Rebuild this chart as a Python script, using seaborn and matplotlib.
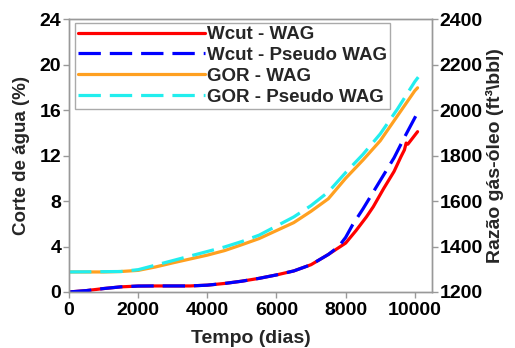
import matplotlib
matplotlib.use("Agg")
import matplotlib.pyplot as plt
import seaborn as sns

# Tempo (dias) e corte de água (%)
t_wcut = [0, 500, 1000, 1500, 2000, 2500, 3000, 3500, 4000, 4500, 5000, 5500,
          6000, 6500, 7000, 7500]
wcut_base = [0, 0.12, 0.3, 0.45, 0.52, 0.53, 0.53, 0.53, 0.6, 0.75, 0.95, 1.2,
             1.5, 1.85, 2.4, 3.3]

t_wcut_wag = t_wcut + [8000, 8300, 8600, 8800, 9100, 9400, 9600, 9700, 9750, 9800, 10080]
wcut_wag = wcut_base + [4.3, 5.4, 6.6, 7.5, 9.1, 10.6, 11.9, 12.5, 13.1, 13.0, 14.1]

t_wcut_pseudo = t_wcut + [7800, 8000, 8200, 8500, 8800, 9100, 9400, 9700, 10050]
wcut_pseudo = wcut_base + [4.0, 4.8, 5.9, 7.3, 8.8, 10.3, 11.8, 13.6, 15.6]

# Razão gás-óleo (ft3/bbl)
t_gor_wag = [0, 1000, 1500, 2000, 2500, 3000, 3500, 4000, 4500, 5000, 5500, 6000,
             6500, 7000, 7500, 8000, 8500, 9000, 9500, 10000, 10080]
gor_wag = [1288, 1288, 1290, 1295, 1310, 1328, 1345, 1362, 1382, 1408, 1435, 1470,
           1505, 1555, 1610, 1700, 1780, 1865, 1975, 2085, 2098]

t_gor_pseudo = [0, 1500, 2000, 2500, 3000, 3500, 4000, 4500, 5000, 5500, 6000,
                6500, 7000, 7500, 8000, 8500, 9000, 9500, 10000, 10100]
gor_pseudo = [1288, 1290, 1298, 1318, 1338, 1358, 1378, 1398, 1422, 1450, 1490,
              1530, 1580, 1640, 1725, 1805, 1895, 2005, 2125, 2145]

sns.set_style("ticks")
plt.rcParams['font.family'] = ['Liberation Sans', 'DejaVu Sans']
plt.rcParams['font.weight'] = 'bold'

fig = plt.figure(figsize=(5.15, 3.48), dpi=100)
ax = fig.add_axes([0.134, 0.161, 0.705, 0.784])
ax2 = ax.twinx()

lw = 2.3
sns.lineplot(x=t_wcut_wag, y=wcut_wag, color="#ff0000", linewidth=lw, ax=ax,
             label="Wcut - WAG")
sns.lineplot(x=t_wcut_pseudo, y=wcut_pseudo, color="#0000ff", linewidth=lw, ax=ax,
             label="Wcut - Pseudo WAG")
ax.lines[-1].set_dashes([7, 2.8])
sns.lineplot(x=t_gor_wag, y=gor_wag, color="#ffa020", linewidth=lw, ax=ax2,
             label="GOR - WAG")
sns.lineplot(x=t_gor_pseudo, y=gor_pseudo, color="#22eeee", linewidth=lw, ax=ax2,
             label="GOR - Pseudo WAG")
ax2.lines[-1].set_dashes([7, 2.8])

ax.set_xlim(0, 10500)
ax.set_ylim(0, 24)
ax2.set_ylim(1200, 2400)
ax.set_xticks([0, 2000, 4000, 6000, 8000, 10000])
ax.set_yticks([0, 4, 8, 12, 16, 20, 24])
ax2.set_yticks([1200, 1400, 1600, 1800, 2000, 2200, 2400])

spine_col = "#999999"
for a in (ax, ax2):
    for s in a.spines.values():
        s.set_color(spine_col)
        s.set_linewidth(1.0)
    a.tick_params(colors=spine_col, labelcolor="black", labelsize=14,
                  length=4, width=1.0, pad=1.5)
ax.tick_params(axis="x", pad=3)

ax.set_xlabel("Tempo (dias)", fontsize=14, fontweight="bold", labelpad=8)
ax.set_ylabel("Corte de água (%)", fontsize=13.5, fontweight="bold", labelpad=7)
ax2.set_ylabel("Razão gás-óleo (ft³\\bbl)", fontsize=14, fontweight="bold",
               labelpad=2)

h1, l1 = ax.get_legend_handles_labels()
h2, l2 = ax2.get_legend_handles_labels()
ax.get_legend().remove()
ax2.get_legend().remove()
leg = ax2.legend(h1 + h2, l1 + l2, loc="upper left", bbox_to_anchor=(0.0165, 0.985),
                 borderaxespad=0, fontsize=13.5, handlelength=6.8, handletextpad=0.1,
                 labelspacing=0.2, borderpad=0.15, fancybox=False, framealpha=1,
                 edgecolor="#aaaaaa")
leg.get_frame().set_linewidth(1.0)

fig.savefig("out.png", dpi=100)
